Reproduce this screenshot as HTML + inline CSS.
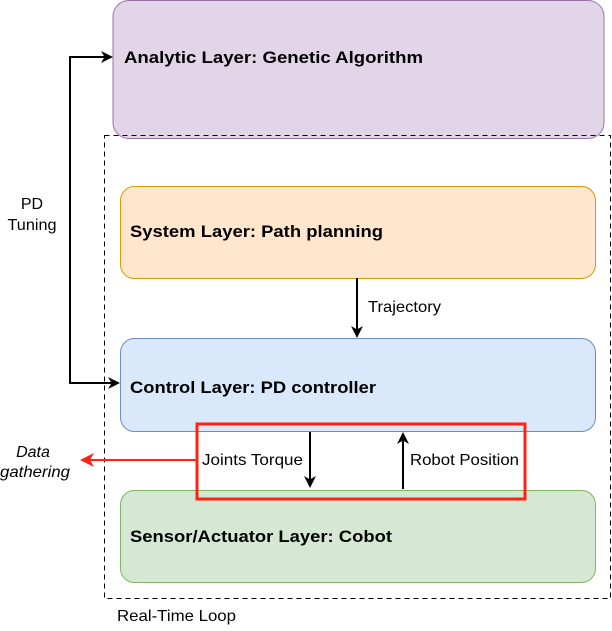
<!DOCTYPE html>
<html><head><style>body{margin:0;background:#fff}</style></head><body>
<svg width="612" height="626" xmlns="http://www.w3.org/2000/svg" font-family="Liberation Sans, sans-serif">
<defs>
<marker id="a" markerWidth="12" markerHeight="12" refX="10" refY="6" orient="auto-start-reverse" markerUnits="userSpaceOnUse"><path d="M0,0 L12,6 L0,12 L3.5,6z" fill="#000"/></marker>
<marker id="r" markerWidth="14" markerHeight="14" refX="11" refY="7" orient="auto" markerUnits="userSpaceOnUse"><path d="M0,0 L14,7 L0,14 L4,7z" fill="#f21"/></marker>
</defs>
<rect x="113" y="0.5" width="491" height="138" rx="16" fill="#e1d5e7" stroke="#9673a6"/>
<text x="124" y="63" font-size="17" font-weight="bold" textLength="299" lengthAdjust="spacingAndGlyphs">Analytic Layer: Genetic Algorithm</text>
<rect x="104.5" y="135.5" width="506" height="463" fill="none" stroke="#000" stroke-dasharray="5,4"/>
<rect x="120.5" y="186.5" width="475" height="92" rx="14" fill="#ffe6cc" stroke="#d79b00"/>
<text x="130" y="237" font-size="17" font-weight="bold" textLength="253" lengthAdjust="spacingAndGlyphs">System Layer: Path planning</text>
<rect x="120.5" y="338.5" width="475" height="93" rx="14" fill="#dae8fc" stroke="#6c8ebf"/>
<text x="130" y="393" font-size="17" font-weight="bold" textLength="246" lengthAdjust="spacingAndGlyphs">Control Layer: PD controller</text>
<rect x="120.5" y="490.5" width="475" height="92" rx="14" fill="#d5e8d4" stroke="#82b366"/>
<text x="130" y="542" font-size="17" font-weight="bold" textLength="262" lengthAdjust="spacingAndGlyphs">Sensor/Actuator Layer: Cobot</text>
<path d="M111,57 L70,57 L70,383 L118,383" fill="none" stroke="#000" stroke-width="2" marker-start="url(#a)" marker-end="url(#a)"/>
<text x="32" y="209" font-size="16" text-anchor="middle">PD</text>
<text x="32" y="230" font-size="16" text-anchor="middle" textLength="49" lengthAdjust="spacingAndGlyphs">Tuning</text>
<line x1="357" y1="278" x2="357" y2="336" stroke="#000" stroke-width="2" marker-end="url(#a)"/>
<text x="368" y="312" font-size="16" textLength="73" lengthAdjust="spacingAndGlyphs">Trajectory</text>
<rect x="197" y="424" width="328" height="75" fill="none" stroke="#f21" stroke-width="3"/>
<line x1="310" y1="432" x2="310" y2="486" stroke="#000" stroke-width="2" marker-end="url(#a)"/>
<line x1="403" y1="489" x2="403" y2="434" stroke="#000" stroke-width="2" marker-end="url(#a)"/>
<text x="202" y="465" font-size="16" textLength="101" lengthAdjust="spacingAndGlyphs">Joints Torque</text>
<text x="410" y="465" font-size="16" textLength="109" lengthAdjust="spacingAndGlyphs">Robot Position</text>
<line x1="196" y1="460" x2="83" y2="460" stroke="#f21" stroke-width="2" marker-end="url(#r)"/>
<text x="33" y="457" font-size="16" font-style="italic" text-anchor="middle">Data</text>
<text x="35" y="477" font-size="16" font-style="italic" text-anchor="middle" textLength="70" lengthAdjust="spacingAndGlyphs">gathering</text>
<text x="117" y="621" font-size="16" textLength="119" lengthAdjust="spacingAndGlyphs">Real-Time Loop</text>
</svg>
</body></html>
